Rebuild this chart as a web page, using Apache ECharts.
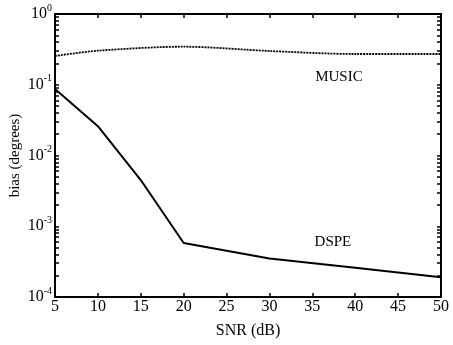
<!DOCTYPE html>
<html>
<head>
<meta charset="utf-8">
<script src="https://cdn.jsdelivr.net/npm/echarts@6/dist/echarts.min.js"></script>
<style>html,body{margin:0;padding:0;background:#fff}#c{width:453px;height:345px}</style>
</head>
<body>
<div id="c"></div>
<script>
const musicSnr = [5, 10, 20, 30, 40, 50];
const musicBias = [0.255, 0.303, 0.345, 0.30, 0.272, 0.272];
const dspeSnr = [5, 10, 15, 20, 30, 40, 50];
const dspeBias = [0.087, 0.026, 0.0045, 0.00058, 0.00035, 0.00026, 0.00019];
const xTicks = [5, 10, 15, 20, 25, 30, 35, 40, 45, 50];
const yDecades = [0.0001, 0.001, 0.01, 0.1, 1];
const minorMultipliers = [2, 3, 4, 5, 6, 7, 8, 9];
const seriesLabels = ['MUSIC', 'DSPE'];
const labelCoords = [[38.1, 0.129], [37.4, 0.0006]];

const yTickValues = [];
yDecades.forEach((d, i) => {
  yTickValues.push(d);
  if (i < yDecades.length - 1) minorMultipliers.forEach(m => yTickValues.push(+(d * m).toPrecision(3)));
});

const font = '"Liberation Serif", "DejaVu Serif", serif';
const chart = echarts.init(document.getElementById('c'), null, {renderer: 'canvas'});
const axisLine = {show: true, onZero: false, lineStyle: {color: '#000', width: 2}};
const yLabelFmt = v => '{b|10}{s|' + Math.round(Math.log10(v)) + '}';
const yTick = {show: true, inside: true, length: 4, customValues: yTickValues, lineStyle: {color: '#000', width: 1.5}};
const xTick = {show: true, inside: true, length: 4, customValues: xTicks, lineStyle: {color: '#000', width: 1.5}};
const textLabel = (txt) => ({show: true, position: 'inside', formatter: txt, fontFamily: font, fontSize: 15, color: '#000'});

chart.setOption({
  animation: false,
  backgroundColor: '#fff',
  grid: {left: 55, right: 12, top: 14, bottom: 48, containLabel: false, outerBoundsMode: 'none'},
  xAxis: [{
    type: 'value', min: 5, max: 50, interval: 5,
    name: 'SNR (dB)', nameLocation: 'middle', nameGap: 26,
    nameTextStyle: {fontFamily: font, fontSize: 16, color: '#000'},
    axisLine: axisLine, axisTick: xTick,
    axisLabel: {fontFamily: font, fontSize: 16, color: '#000', margin: 2, customValues: xTicks},
    splitLine: {show: false}
  }, {
    type: 'value', min: 5, max: 50, interval: 5, position: 'top',
    axisLine: axisLine, axisTick: xTick,
    axisLabel: {show: false}, splitLine: {show: false}
  }],
  yAxis: [{
    type: 'log', min: 0.0001, max: 1, logBase: 10,
    name: 'bias (degrees)', nameLocation: 'middle', nameGap: 32, nameRotate: 90,
    nameMoveOverlap: false,
    nameTextStyle: {fontFamily: font, fontSize: 15, color: '#000'},
    axisLine: axisLine, axisTick: yTick,
    axisLabel: {
      formatter: yLabelFmt, margin: 3, customValues: yDecades,
      rich: {
        b: {fontFamily: font, fontSize: 16, color: '#000'},
        s: {fontFamily: font, fontSize: 10, color: '#000', verticalAlign: 'top', padding: [0, 0, 12, 0]}
      }
    },
    splitLine: {show: false}
  }, {
    type: 'log', min: 0.0001, max: 1, logBase: 10, position: 'right',
    axisLine: axisLine, axisTick: yTick,
    axisLabel: {show: false}, splitLine: {show: false}
  }],
  series: [{
    name: seriesLabels[0], type: 'line', smooth: 0.3, symbol: 'none',
    data: musicSnr.map((x, i) => [x, musicBias[i]]),
    lineStyle: {color: '#000', width: 1.8, type: [2, 1]},
    markPoint: {
      symbol: 'circle', symbolSize: 1, itemStyle: {color: 'rgba(0,0,0,0)'},
      label: textLabel(seriesLabels[0]),
      data: [{coord: labelCoords[0], value: 0}]
    }
  }, {
    name: seriesLabels[1], type: 'line', symbol: 'none',
    data: dspeSnr.map((x, i) => [x, dspeBias[i]]),
    lineStyle: {color: '#000', width: 2},
    markPoint: {
      symbol: 'circle', symbolSize: 1, itemStyle: {color: 'rgba(0,0,0,0)'},
      label: textLabel(seriesLabels[1]),
      data: [{coord: labelCoords[1], value: 0}]
    }
  }]
});
</script>
</body>
</html>
